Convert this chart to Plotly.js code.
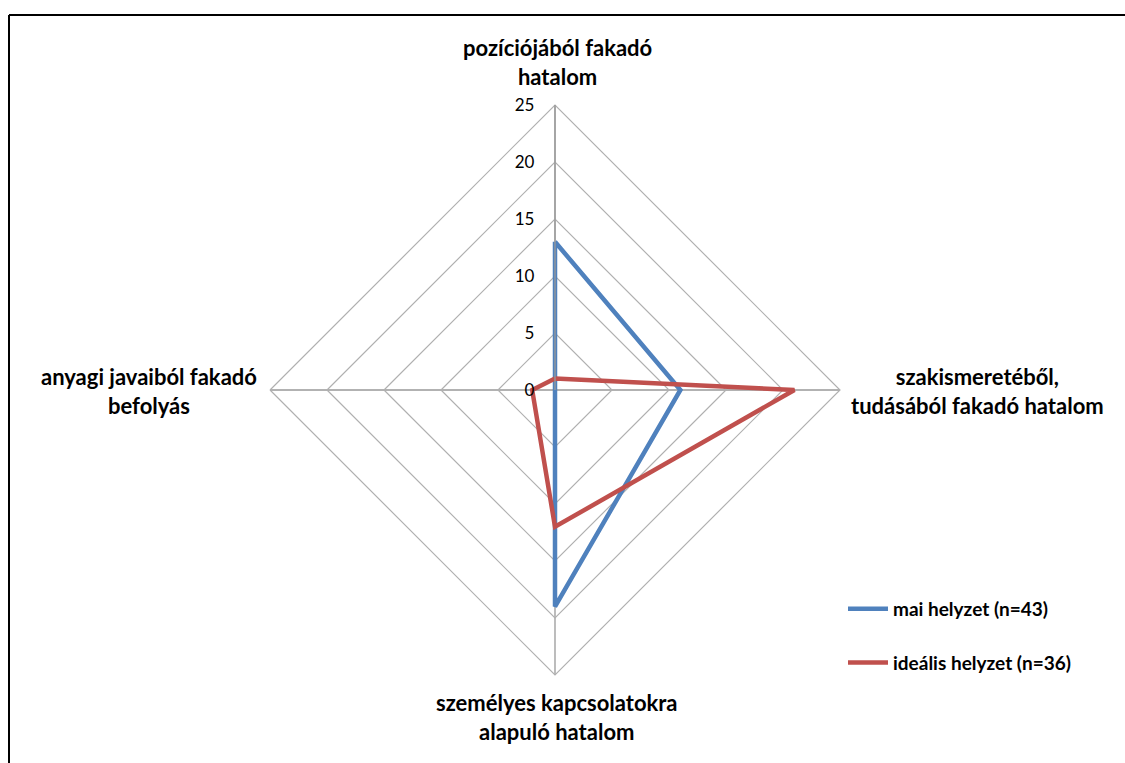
<!DOCTYPE html>
<html>
<head>
<meta charset="utf-8">
<script src="https://cdn.plot.ly/plotly-3.0.1.min.js"></script>
<style>html,body{margin:0;padding:0;background:#fff;}#chart{width:1125px;height:763px;}</style>
</head>
<body>
<div id="chart"></div>
<script>
const categories = ["pozíciójából fakadó<br>hatalom", "szakismeretéből,<br>tudásából fakadó hatalom", "személyes kapcsolatokra<br>alapuló hatalom", "anyagi javaiból fakadó<br>befolyás"];
const seriesNames = ["mai helyzet (n=43)", "ideális helyzet (n=36)"];
const maiValues = [13, 11, 19, 0];
const idealisValues = [1, 21, 12, 2];
const radialTicks = [0, 5, 10, 15, 20, 25];

const W = 1125, H = 763;
const px = x => x / W, py = y => 1 - y / H;
const cx = 555, cy = 390, R = 285;

const close = a => a.concat([a[0]]);
const theta = close(categories);

const traces = [
  {type: 'scatterpolar', mode: 'lines', name: seriesNames[0], r: close(maiValues), theta: theta,
   line: {color: '#4F81BD', width: 4.5}, legendgroup: 'a', hoverinfo: 'r+theta'},
  {type: 'scatterpolar', mode: 'lines', name: seriesNames[1], r: close(idealisValues), theta: theta,
   line: {color: '#C0504D', width: 4.5}, legendgroup: 'b', hoverinfo: 'r+theta'}
];

const labelPos = [
  {x: 557, y: 62},
  {x: 977, y: 391},
  {x: 557, y: 717},
  {x: 149, y: 391}
];

const annotations = categories.map((c, i) => ({
  text: '<b>' + c + '</b>', xref: 'paper', yref: 'paper',
  x: px(labelPos[i].x), y: py(labelPos[i].y), xanchor: 'center', yanchor: 'middle',
  showarrow: false, align: 'center',
  font: {family: 'Lato, sans-serif', size: 22, color: '#000'}
}));

const layout = {
  width: W, height: H,
  margin: {l: 0, r: 0, t: 0, b: 0, pad: 0},
  paper_bgcolor: '#fff',
  showlegend: true,
  legend: {x: px(843), y: py(590), xanchor: 'left', yanchor: 'top', tracegroupgap: 26,
    font: {family: 'Lato, sans-serif', size: 19, color: '#000', weight: 'bold'}, itemwidth: 40,
    bgcolor: 'rgba(0,0,0,0)'},
  polar: {
    domain: {x: [px(cx - R), px(cx + R)], y: [py(cy + R), py(cy - R)]},
    gridshape: 'linear',
    bgcolor: '#fff',
    radialaxis: {range: [0, 25], tickvals: radialTicks, ticktext: radialTicks.map(String),
      angle: 90, side: 'counterclockwise', tickangle: 90, showline: true, linecolor: '#999999', linewidth: 1.3,
      gridcolor: '#B0B0B0', gridwidth: 1.2, ticks: 'outside', ticklen: 14, tickcolor: 'rgba(0,0,0,0)',
      tickfont: {family: 'Lato, sans-serif', size: 17, color: '#000'}},
    angularaxis: {type: 'category', categoryarray: categories, rotation: 90, direction: 'clockwise',
      showticklabels: false, ticks: '', showline: true, linecolor: '#B0B0B0', linewidth: 1.2,
      gridcolor: '#999999', gridwidth: 1.3}
  },
  annotations: annotations,
  shapes: [
    {type: 'line', xref: 'paper', yref: 'paper', x0: px(9), x1: 1.02, y0: py(15), y1: py(15), line: {color: '#000', width: 2}},
    {type: 'line', xref: 'paper', yref: 'paper', x0: px(9), x1: px(9), y0: py(15), y1: -0.02, line: {color: '#000', width: 2}}
  ]
};

Plotly.newPlot('chart', traces, layout, {displayModeBar: false, staticPlot: true});
</script>
</body>
</html>
